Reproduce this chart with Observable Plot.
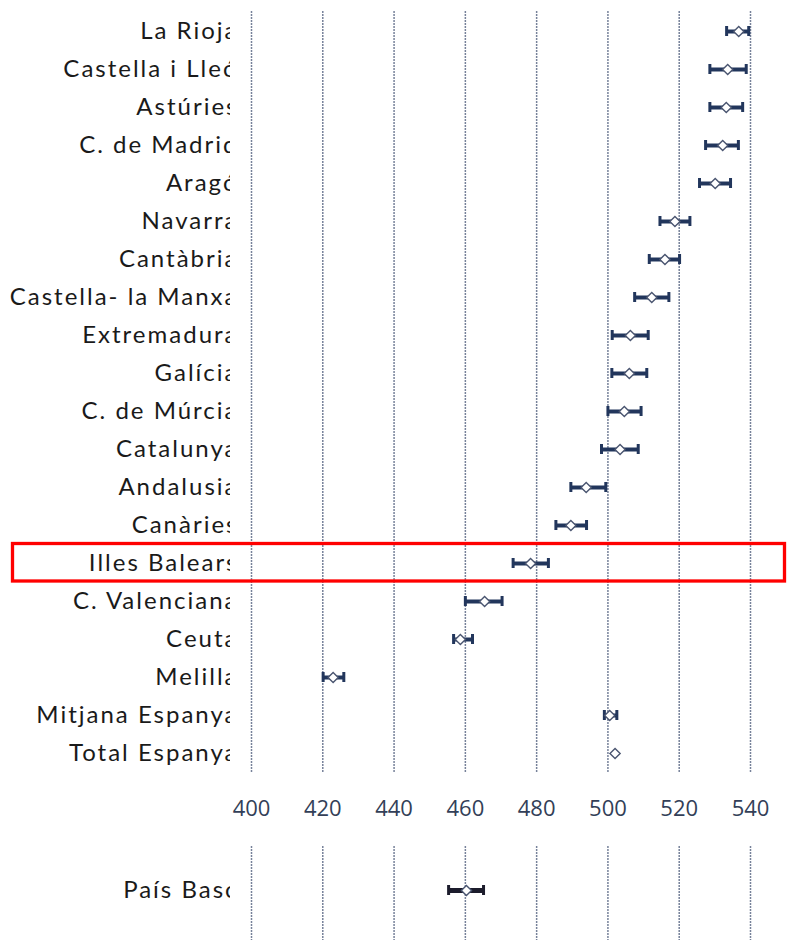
<!DOCTYPE html>
<html>
<head>
<meta charset="utf-8">
<script src="https://cdn.jsdelivr.net/npm/d3@7"></script>
<script src="https://cdn.jsdelivr.net/npm/@observablehq/plot@0.6"></script>
<style>
  html, body { margin: 0; padding: 0; background: #fff; }
  #chart svg { display: block; }
  g[aria-label='y-axis tick label'] text { letter-spacing: 2px; font-weight: 400; }
</style>
</head>
<body>
<div id="chart"></div>
<script>
const regions = ["La Rioja","Castella i Lleó","Astúries","C. de Madrid","Aragó","Navarra","Cantàbria","Castella- la Manxa","Extremadura","Galícia","C. de Múrcia","Catalunya","Andalusia","Canàries","Illes Balears","C. Valenciana","Ceuta","Melilla","Mitjana Espanya","Total Espanya"];
const values = [536.7,533.6,533.2,532.2,530.1,518.8,516.0,512.3,506.3,506.0,504.6,503.4,493.9,489.6,478.3,465.4,458.6,422.9,500.5,502.0];
const lows   = [533.3,528.6,528.6,527.4,525.7,514.6,511.6,507.5,501.2,501.1,500.0,498.2,489.6,485.4,473.4,460.0,456.7,420.1,499.0,null];
const highs  = [539.5,538.8,537.8,536.6,534.4,523.0,520.1,517.1,511.3,510.9,509.3,508.5,499.4,494.0,483.3,470.3,462.0,425.9,502.5,null];
const highlighted = "Illes Balears";

const basqueRegion = ["País Basc"];
const basqueValue = [460.3];
const basqueLow = [455.3];
const basqueHigh = [465.1];

const xTicks = [400,420,440,460,480,500,520,540];

const data = regions.map((r,i) => ({region: r, val: values[i], lo: lows[i], hi: highs[i]}));
const bars = data.filter(d => d.lo != null);
const basque = basqueRegion.map((r,i) => ({region: r, val: basqueValue[i], lo: basqueLow[i], hi: basqueHigh[i]}));

const labelFont = "Lato, 'Open Sans', sans-serif";
const navy = "#22365c";
const gridColor = "#77829a";

function marks(rows, barRows, barColor, capInset, barWidth) {
  return [
    Plot.gridX(xTicks, {stroke: gridColor, strokeOpacity: 1, strokeWidth: 1.5, strokeDasharray: "2,1"}),
    Plot.ruleY(barRows, {y: "region", x1: "lo", x2: "hi", stroke: barColor, strokeWidth: barWidth}),
    Plot.tickX(barRows, {x: "lo", y: "region", stroke: barColor, strokeWidth: 3, insetTop: capInset, insetBottom: capInset}),
    Plot.tickX(barRows, {x: "hi", y: "region", stroke: barColor, strokeWidth: 3, insetTop: capInset, insetBottom: capInset}),
    Plot.dot(rows, {x: "val", y: "region", symbol: "diamond2", r: 4.6, fill: "white", stroke: "#4a5570", strokeWidth: 1.4}),
    Plot.axisY({tickSize: 0, tickPadding: 13, fontSize: 24, fill: "#1a1a1a", fontFamily: labelFont})
  ];
}

const topPlot = Plot.plot({
  width: 787,
  height: 835,
  marginLeft: 251,
  marginRight: 37,
  marginTop: 11,
  marginBottom: 62,
  style: {fontFamily: labelFont, background: "white"},
  x: {domain: [400, 540], axis: null},
  y: {type: "band", domain: regions, padding: 0, range: [11, 773], label: null},
  marks: [
    ...marks(data, bars, navy, 14, 4),
    Plot.axisX(xTicks, {tickSize: 0, tickPadding: 27, fontSize: 22, fill: "#333f58", fontFamily: "'Open Sans', sans-serif", label: null})
  ]
});

const bottomPlot = Plot.plot({
  width: 787,
  height: 105,
  marginLeft: 251,
  marginRight: 37,
  marginTop: 11,
  marginBottom: 0,
  style: {fontFamily: labelFont, background: "white"},
  x: {domain: [400, 540], axis: null},
  y: {type: "band", domain: basqueRegion, padding: 0, range: [13, 97], label: null},
  marks: marks(basque, basque, "#1c1c2c", 37, 5)
});

function clipLabels(svg, id) {
  const s = d3.select(svg);
  s.append("defs").append("clipPath").attr("id", id)
    .append("rect").attr("x", 0).attr("y", 0).attr("width", 230).attr("height", 2000);
  s.selectAll("g[aria-label='y-axis tick label']").each(function() {
    const wrap = document.createElementNS("http://www.w3.org/2000/svg", "g");
    this.parentNode.insertBefore(wrap, this);
    wrap.appendChild(this);
    wrap.setAttribute("clip-path", `url(#${id})`);
  });
}
clipLabels(topPlot, "clipTop");
clipLabels(bottomPlot, "clipBottom");

// highlight box around the selected row
const ys = topPlot.scale("y");
const y0 = ys.apply(highlighted);
d3.select(topPlot).append("rect")
  .attr("x", 12.5).attr("width", 772)
  .attr("y", y0 - 0.5).attr("height", ys.bandwidth - 0.5)
  .attr("fill", "none").attr("stroke", "#ff0000").attr("stroke-width", 3.3);

document.getElementById("chart").append(topPlot, bottomPlot);
</script>
</body>
</html>
